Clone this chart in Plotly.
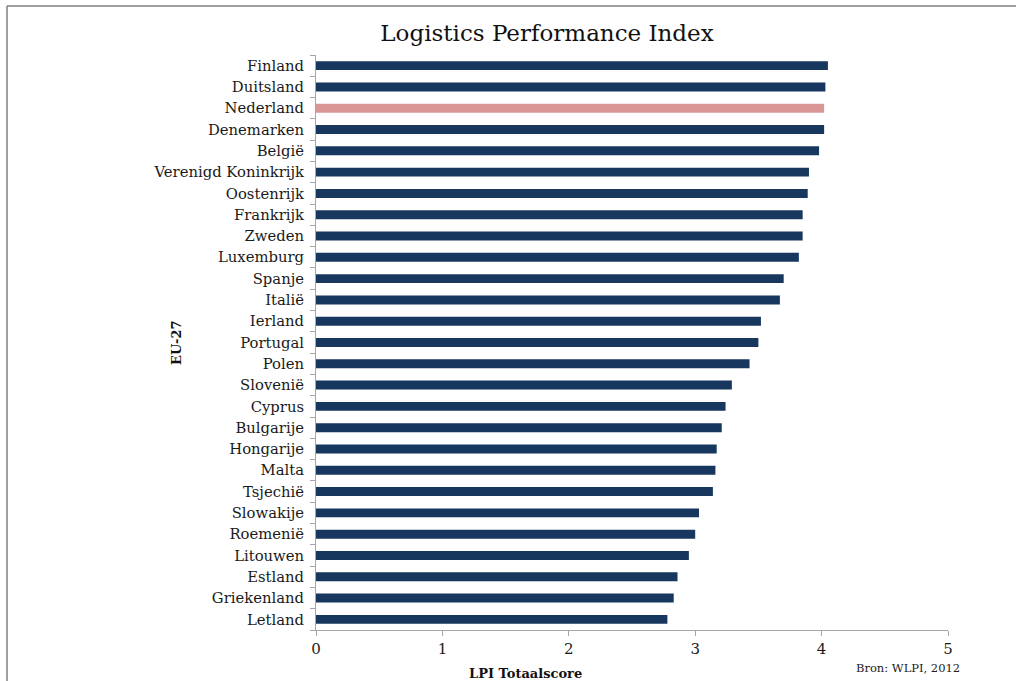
import plotly.graph_objects as go

countries = ["Finland", "Duitsland", "Nederland", "Denemarken", "België",
             "Verenigd Koninkrijk", "Oostenrijk", "Frankrijk", "Zweden", "Luxemburg",
             "Spanje", "Italië", "Ierland", "Portugal", "Polen", "Slovenië", "Cyprus",
             "Bulgarije", "Hongarije", "Malta", "Tsjechië", "Slowakije", "Roemenië",
             "Litouwen", "Estland", "Griekenland", "Letland"]
scores = [4.05, 4.03, 4.02, 4.02, 3.98, 3.90, 3.89, 3.85, 3.85, 3.82, 3.70, 3.67,
          3.52, 3.50, 3.43, 3.29, 3.24, 3.21, 3.17, 3.16, 3.14, 3.03, 3.00, 2.95,
          2.86, 2.83, 2.78]
highlight = "Nederland"
x_ticks = [0, 1, 2, 3, 4, 5]

NAVY = "#17375E"
PINK = "#D99694"
colors = [PINK if c == highlight else NAVY for c in countries]

W, H = 1016, 681
ML, MR, MT, MB = 316, 68, 55, 51
PW, PH = W - ML - MR, H - MT - MB

def px(x):
    return (x - ML) / PW

def py(y):
    return (H - MB - y) / PH

SERIF = "DejaVu Serif"

fig = go.Figure(go.Bar(
    x=scores, y=countries, orientation="h",
    marker=dict(color=colors, line=dict(width=0)),
    width=0.42,
))

fig.update_layout(
    width=W, height=H,
    margin=dict(l=ML, r=MR, t=MT, b=MB),
    paper_bgcolor="white", plot_bgcolor="white",
    showlegend=False,
    font=dict(family=SERIF, color="#1a1a1a"),
    title=dict(text="Logistics Performance Index", x=547 / W,
               xanchor="center", y=1 - 33 / H, yanchor="middle",
               font=dict(family=SERIF, size=23, color="#111111")),
    xaxis=dict(range=[0, 5], tickvals=x_ticks, ticks="outside", ticklen=5,
               tickcolor="#A6A6A6", showline=True, linecolor="#A6A6A6", linewidth=1,
               showgrid=False, zeroline=False, tickfont=dict(family=SERIF, size=15)),
    yaxis=dict(categoryorder="array", categoryarray=countries[::-1],
               ticks="outside", ticklen=5, tickson="boundaries", tickcolor="#A6A6A6",
               showline=True, linecolor="#A6A6A6", linewidth=1, showgrid=False,
               ticklabelstandoff=8,
               tickfont=dict(family=SERIF, size=14.8), range=[-0.5, 26.5]),
    annotations=[
        dict(text="<b>LPI Totaalscore</b>", xref="paper", yref="paper",
             x=px(525), y=py(673), xanchor="center", yanchor="middle",
             showarrow=False, font=dict(family=SERIF, size=13, color="#111111")),
        dict(text="<b>EU-27</b>", xref="paper", yref="paper", textangle=-90,
             x=px(176), y=py(343), xanchor="center", yanchor="middle",
             showarrow=False, font=dict(family=SERIF, size=13, color="#111111")),
        dict(text="Bron: WLPI, 2012", xref="paper", yref="paper",
             x=px(908), y=py(668), xanchor="center", yanchor="middle",
             showarrow=False, font=dict(family=SERIF, size=11.5, color="#222222")),
    ],
    shapes=[
        dict(type="line", xref="paper", yref="paper", x0=px(7), x1=px(W),
             y0=py(6), y1=py(6), line=dict(color="#808080", width=1.5)),
        dict(type="line", xref="paper", yref="paper", x0=px(7), x1=px(7),
             y0=py(6), y1=py(H), line=dict(color="#808080", width=1.5)),
    ],
)

fig.write_html("out.html", config={"displayModeBar": False},
               post_script="document.body.style.margin='0';document.body.style.padding='0';document.body.style.overflow='hidden';")
